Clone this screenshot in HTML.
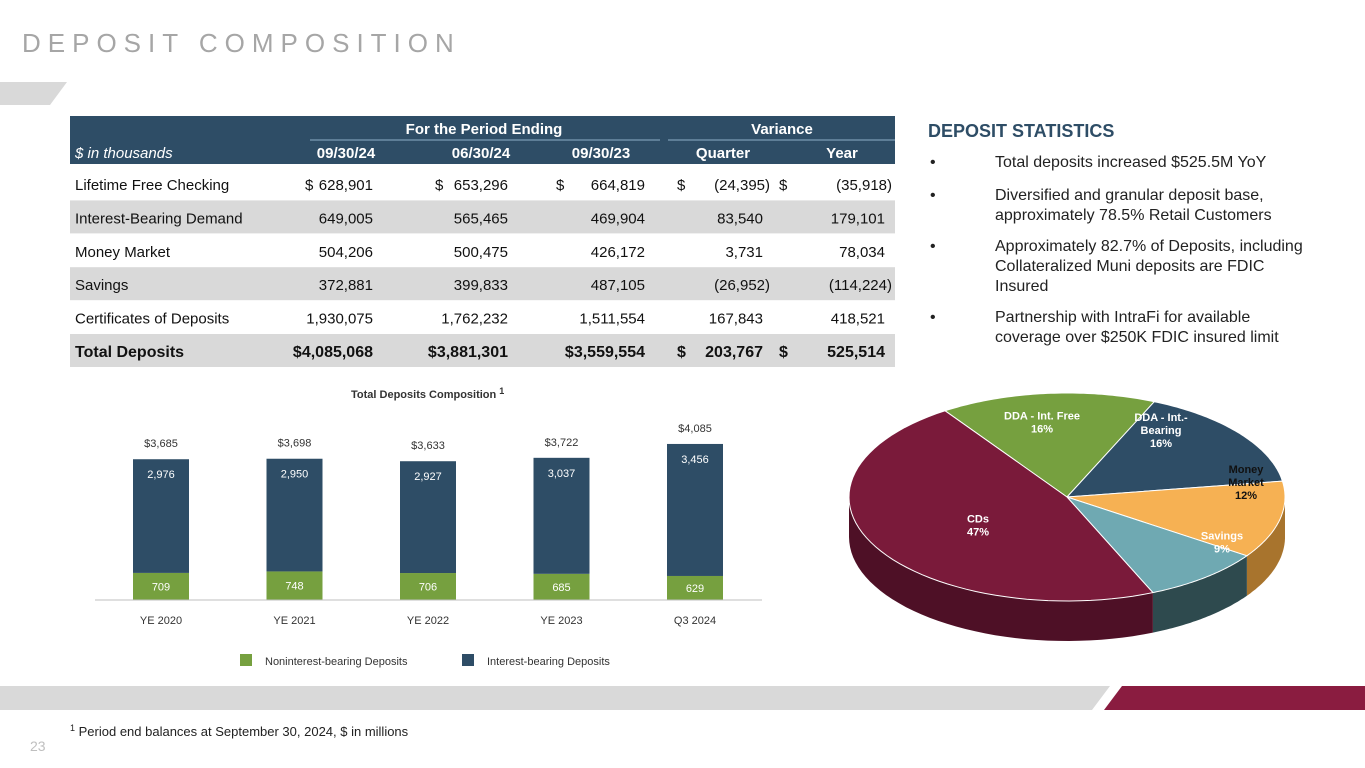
<!DOCTYPE html>
<html><head><meta charset="utf-8"><style>
body{margin:0;background:#fff;width:1365px;height:768px;overflow:hidden;font-family:"Liberation Sans",sans-serif}
svg{position:absolute;left:0;top:0}
</style></head><body>
<svg width="1365" height="768" font-family="Liberation Sans, sans-serif">
<text x="22" y="52" font-size="26" fill="#a6a6a6" letter-spacing="7">DEPOSIT COMPOSITION</text>
<polygon points="0,82 67,82 50,105 0,105" fill="#d9d9d9"/>

<g id="table"></g>

<text x="928" y="137" font-size="18" font-weight="bold" fill="#2e4d66">DEPOSIT STATISTICS</text>
<g font-size="16" fill="#222">
<text x="930" y="167">•</text><text x="995" y="167">Total deposits increased $525.5M YoY</text>
<text x="930" y="200">•</text><text x="995" y="200">Diversified and granular deposit base,</text><text x="995" y="220">approximately 78.5% Retail Customers</text>
<text x="930" y="251">•</text><text x="995" y="251">Approximately 82.7% of Deposits, including</text><text x="995" y="271">Collateralized Muni deposits are FDIC</text><text x="995" y="291">Insured</text>
<text x="930" y="322">•</text><text x="995" y="322">Partnership with IntraFi for available</text><text x="995" y="342">coverage over $250K FDIC insured limit</text>
</g>

<text x="351" y="398" font-size="11" font-weight="bold" fill="#333">Total Deposits Composition <tspan font-size="9" dy="-4">1</tspan></text>
<g id="bars"></g>
<line x1="95" y1="600" x2="762" y2="600" stroke="#bfbfbf"/>
<rect x="240" y="654" width="12" height="12" fill="#76a03f"/>
<text x="265" y="665" font-size="11" fill="#333">Noninterest-bearing Deposits</text>
<rect x="462" y="654" width="12" height="12" fill="#2e4d66"/>
<text x="487" y="665" font-size="11" fill="#333">Interest-bearing Deposits</text>

<g id="pie"></g>

<polygon points="0,686 1110,686 1092,710 0,710" fill="#d9d9d9"/>
<polygon points="1122,686 1365,686 1365,710 1104,710" fill="#8a1c40"/>
<text x="70" y="736" font-size="13" fill="#222"><tspan font-size="9" dy="-5">1</tspan><tspan dy="5"> Period end balances at September 30, 2024, $ in millions</tspan></text>
<text x="30" y="751" font-size="14" fill="#bfbfbf">23</text>
</svg>
<script>
const NS="http://www.w3.org/2000/svg";
function mk(tag,attrs,parent,txt){const e=document.createElementNS(NS,tag);for(const k in attrs)e.setAttribute(k,attrs[k]);if(txt!==undefined)e.textContent=txt;parent.appendChild(e);return e;}

// ---------- table ----------
const rowLabels=["Lifetime Free Checking","Interest-Bearing Demand","Money Market","Savings","Certificates of Deposits","Total Deposits"];
const col1=["628,901","649,005","504,206","372,881","1,930,075","$4,085,068"];
const col2=["653,296","565,465","500,475","399,833","1,762,232","$3,881,301"];
const col3=["664,819","469,904","426,172","487,105","1,511,554","$3,559,554"];
const colQ=["(24,395)","83,540","3,731","(26,952)","167,843","203,767"];
const colY=["(35,918)","179,101","78,034","(114,224)","418,521","525,514"];
const t=document.getElementById('table');
let r=mk('rect',{x:70,y:116,width:825,height:48,fill:'#2e4d66'},t);


mk('text',{x:484,y:134,'font-size':15,'font-weight':'bold',fill:'#fff','text-anchor':'middle'},t,'For the Period Ending');
mk('text',{x:782,y:134,'font-size':15,'font-weight':'bold',fill:'#fff','text-anchor':'middle'},t,'Variance');
mk('line',{x1:310,y1:140,x2:660,y2:140,stroke:'#8fb0c8'},t);
mk('line',{x1:668,y1:140,x2:895,y2:140,stroke:'#8fb0c8'},t);
mk('text',{x:75,y:158,'font-size':15,'font-style':'italic',fill:'#fff'},t,'$ in thousands');
[["09/30/24",346],["06/30/24",481],["09/30/23",601],["Quarter",723],["Year",842]].forEach(h=>mk('text',{x:h[1],y:158,'font-size':15,'font-weight':'bold',fill:'#fff','text-anchor':'middle'},t,h[0]));
const rightX=[373,508,645,763,885];
rowLabels.forEach((lab,i)=>{
  const y=168+i*33.4;
  const g=mk('g',{},t);
  
  
  if(i%2==1) mk('rect',{x:70,y:y-1,width:825,height:33,fill:'#d9d9d9'},g);
  const bold=i==5;
  const fw=bold?'bold':'normal';
  const ty=y+22;
  mk('text',{x:75,y:ty,'font-size':bold?16:15,'font-weight':fw,fill:'#111'},g,lab);
  const vals=[col1[i],col2[i],col3[i],colQ[i],colY[i]];
  vals.forEach((v,j)=>{
    const paren=v.endsWith(')');
    mk('text',{x:rightX[j]+(paren?7:0),y:ty,'font-size':bold?16:15,'font-weight':fw,fill:'#111','text-anchor':'end'},g,v);
  });
  if(i==0){[305,435,556,677,779].forEach(x=>mk('text',{x:x,y:ty,'font-size':15,fill:'#111'},g,'$'));}
  if(i==5){[677,779].forEach(x=>mk('text',{x:x,y:ty,'font-size':16,'font-weight':'bold',fill:'#111'},g,'$'));}
});

// ---------- bar chart ----------
const cats=["YE 2020","YE 2021","YE 2022","YE 2023","Q3 2024"];
const nonInt=[709,748,706,685,629];
const intB=[2976,2950,2927,3037,3456];
const totals=["$3,685","$3,698","$3,633","$3,722","$4,085"];
const base=600, sc=0.0382, x0=161, step=133.5, bw=56;
const yv=v=>v*sc;
const bg=document.getElementById('bars');
cats.forEach((c,i)=>{
  const cx=x0+i*step;
  const h1=yv(nonInt[i]), h2=yv(intB[i]);
  const b1=mk('rect',{x:cx-bw/2,y:base-h1,width:bw,height:h1,fill:'#76a03f'},bg);
  
  
  const b2=mk('rect',{x:cx-bw/2,y:base-h1-h2,width:bw,height:h2,fill:'#2e4d66'},bg);
  
  
  mk('text',{x:cx,y:base-h1/2+4,'font-size':11,fill:'#fff','text-anchor':'middle'},bg,nonInt[i].toLocaleString('en-US'));
  mk('text',{x:cx,y:base-h1-h2+19,'font-size':11,fill:'#fff','text-anchor':'middle'},bg,intB[i].toLocaleString('en-US'));
  mk('text',{x:cx,y:base-h1-h2-12,'font-size':11,fill:'#333','text-anchor':'middle'},bg,totals[i]);
  mk('text',{x:cx,y:624,'font-size':11,fill:'#333','text-anchor':'middle'},bg,c);
});

// ---------- pie ----------
const pieLabels=[["DDA - Int. Free","16%"],["DDA - Int.-","Bearing","16%"],["Money","Market","12%"],["Savings","9%"],["CDs","47%"]];
const pieVals=[16,16,12,9,47];
const pieCols=['#76a03f','#2e4d66','#f6b153','#6fa9b2','#7a1a3a'];
const sideCols=['#4d6a28','#1d3245','#a8742d','#2e4a4e','#4e1026'];
const labCols=['#fff','#fff','#111','#fff','#fff'];
const PX=1067,PY=497,RX=218,RY=104,D=40,start=-124;
const pg=document.getElementById('pie');
const pt=(a,dy)=>{const r=a*Math.PI/180;return [PX+RX*Math.cos(r),PY+RY*Math.sin(r)+(dy||0)];};
let a=start; const ang=[];
pieVals.forEach(v=>{ang.push([a,a+v*3.6]);a+=v*3.6;});
ang.forEach((s,i)=>{
  for(const off of [0,360,-360]){
    const a0=Math.max(s[0]+off,0), a1=Math.min(s[1]+off,180);
    if(a1<=a0) continue;
    let d='';const n=40;
    for(let k=0;k<=n;k++){const p=pt(a0+(a1-a0)*k/n);d+=(k?'L':'M')+p[0].toFixed(1)+','+p[1].toFixed(1);}
    for(let k=n;k>=0;k--){const p=pt(a0+(a1-a0)*k/n,D);d+='L'+p[0].toFixed(1)+','+p[1].toFixed(1);}
    const sp=mk('path',{d:d+'Z',fill:sideCols[i]},pg);
    
    
  }
});
ang.forEach((s,i)=>{
  let d='M'+PX+','+PY;const n=60;
  for(let k=0;k<=n;k++){const p=pt(s[0]+(s[1]-s[0])*k/n);d+='L'+p[0].toFixed(1)+','+p[1].toFixed(1);}
  const sl=mk('path',{d:d+'Z',fill:pieCols[i],stroke:'#fff','stroke-width':1},pg);
  
  
});
const labPos=[[1042,422],[1161,430],[1246,482],[1222,542],[978,525]];
pieLabels.forEach((L,i)=>{
  const n=L.length;
  L.forEach((ln,k)=>mk('text',{x:labPos[i][0],y:labPos[i][1]+(k-(n-1)/2)*13+4,'font-size':11,'font-weight':'bold',fill:labCols[i],'text-anchor':'middle'},pg,ln));
});
</script>
</body></html>
